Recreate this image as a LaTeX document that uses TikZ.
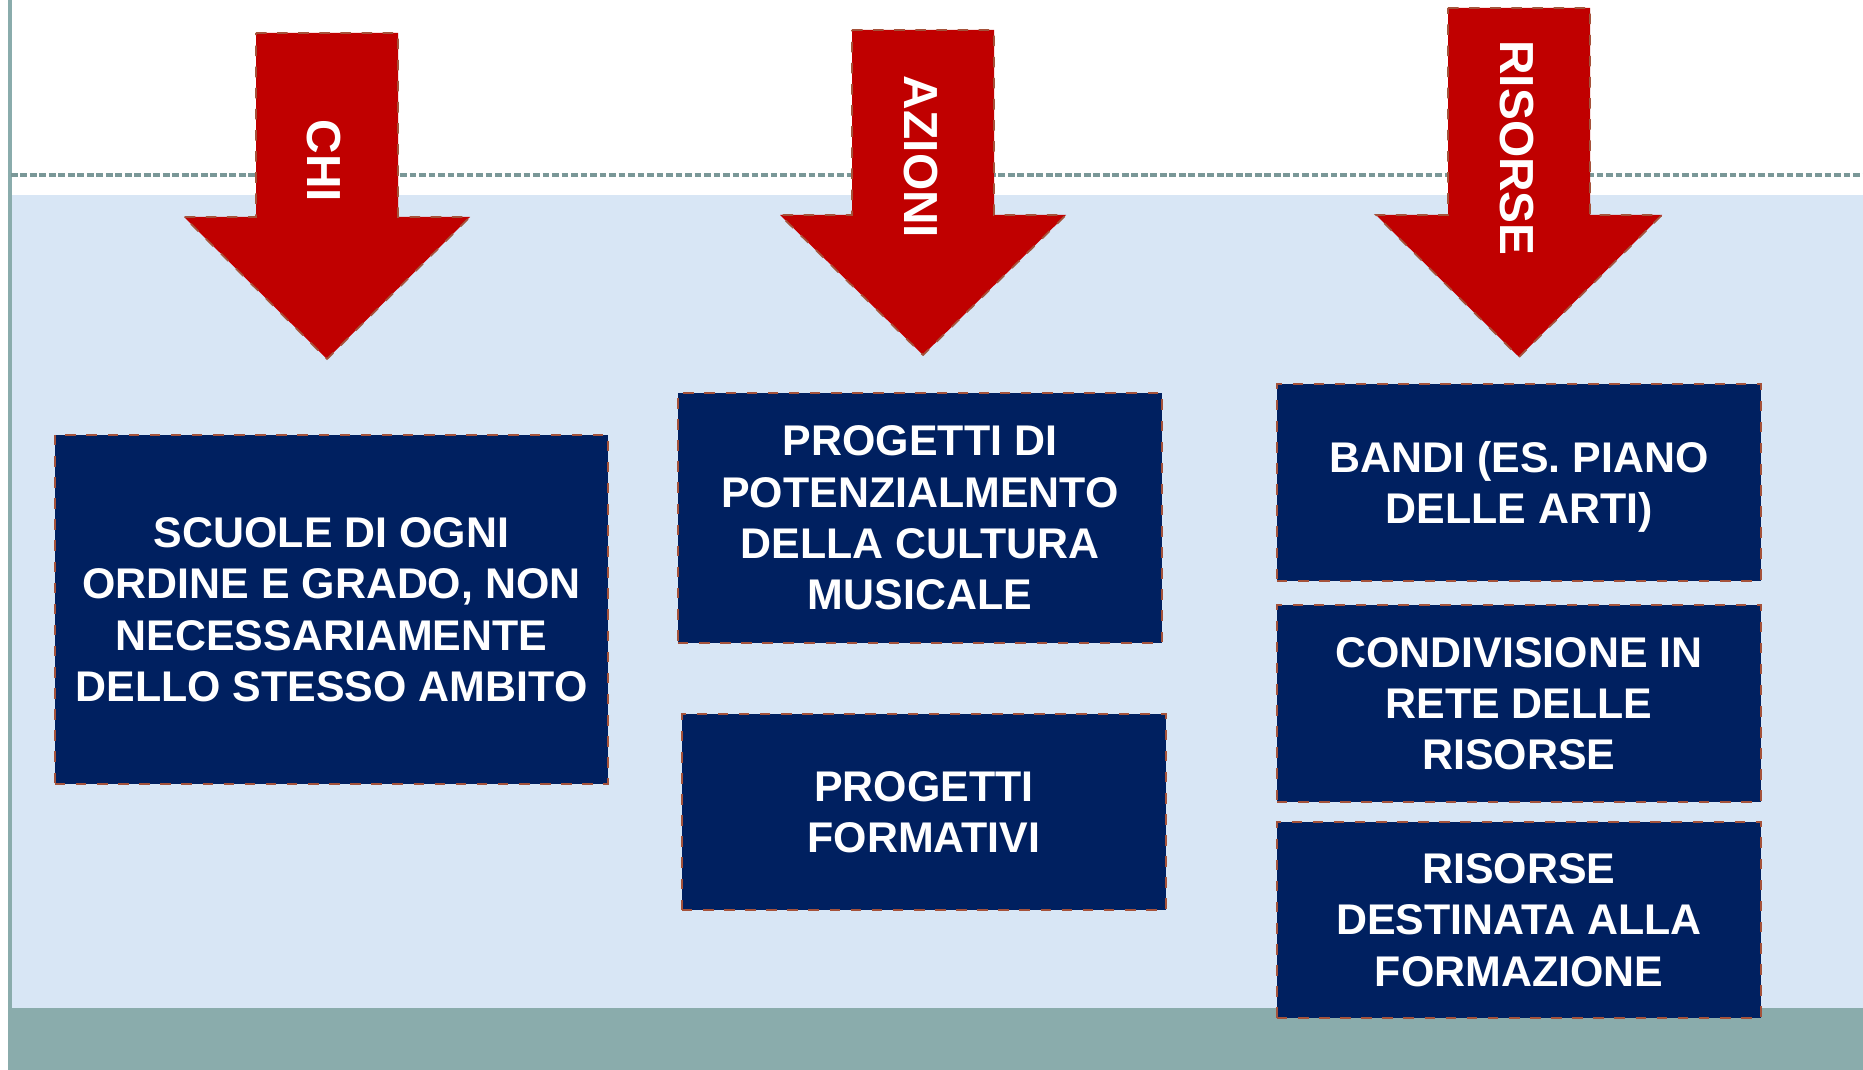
\documentclass[tikz,border=0pt]{standalone}
\usepackage{fontspec}
\setmainfont{Liberation Sans}
\usetikzlibrary{positioning}
\definecolor{slidebg}{HTML}{D8E6F5}
\definecolor{slideband}{HTML}{8AACAC}
\definecolor{slideline}{HTML}{7A9898}
\definecolor{arrowred}{HTML}{C00000}
\definecolor{boxnavy}{HTML}{002060}
\definecolor{edgebrown}{HTML}{A5523A}
\newcommand\downarrowshape[4]{% centre x, top, head line, tip
  ({#1-71},#2) -- ({#1+71},#2) -- ({#1+71},#3) -- ({#1+143},#3)
  -- (#1,#4) -- ({#1-143},#3) -- ({#1-71},#3) -- cycle
}

\begin{document}
\begin{tikzpicture}[x=0.01cm,y=-0.01cm]
  \tikzset{box/.style={draw=edgebrown, dashed, line width=0.5pt, fill=boxnavy, text=white,
      font=\bfseries\fontsize{12.2}{14.6}\selectfont, align=center, inner sep=0pt, text depth=0pt}}
  \tikzset{bigarrow/.style={draw=edgebrown, dashed, line width=0.5pt, fill=arrowred}}
  \tikzset{arrowlabel/.style={text=white, font=\bfseries\fontsize{13.6}{16}\selectfont,
      rotate=-90, inner sep=0pt}}

  \useasboundingbox (0,0) rectangle (1863,1070);
  \fill[white] (0,0) rectangle (1863,1070);
  \fill[slidebg] (8,195) rectangle (1863,1008);
  \fill[slideband] (8,1008) rectangle (1863,1070);
  \draw[slideband, line width=1pt] (10,0) -- (10,1008);
  \draw[slideline, dash pattern=on 1.9pt off 0.8pt, line width=1pt] (11,175) -- (1863,175);

  \draw[bigarrow] \downarrowshape{327}{33}{217}{359};
  \draw[bigarrow] \downarrowshape{923}{30}{215}{355};
  \draw[bigarrow] \downarrowshape{1519}{8}{215}{357};

  \node[arrowlabel] (chi) at (324,161) {CHI};
  \node[arrowlabel] (azioni) at (921,157) {AZIONI};
  \node[arrowlabel] (risorse) at (1517,148) {RISORSE};

  \node[box, minimum width=5.53cm, minimum height=3.49cm] (scuole) at (331.5,609.5)
    {SCUOLE DI OGNI\\ORDINE E GRADO, NON\\NECESSARIAMENTE\\DELLO STESSO AMBITO};

  \node[box, minimum width=4.84cm, minimum height=2.50cm] (potenziamento) at (920,518)
    {PROGETTI DI\\POTENZIALMENTO\\DELLA CULTURA\\MUSICALE};
  \node[box, minimum width=4.84cm, minimum height=1.96cm] (formativi) at (924,812)
    {PROGETTI\\FORMATIVI};

  \node[box, minimum width=4.84cm, minimum height=1.97cm] (bandi) at (1519,482.5)
    {BANDI (ES. PIANO\\DELLE ARTI)};
  \node[box, minimum width=4.84cm, minimum height=1.97cm, below=0.22cm of bandi] (condivisione)
    {CONDIVISIONE IN\\RETE DELLE\\RISORSE};
  \node[box, minimum width=4.84cm, minimum height=1.96cm, below=0.18cm of condivisione] (formazione)
    {RISORSE\\DESTINATA ALLA\\FORMAZIONE};

\end{tikzpicture}
\end{document}
